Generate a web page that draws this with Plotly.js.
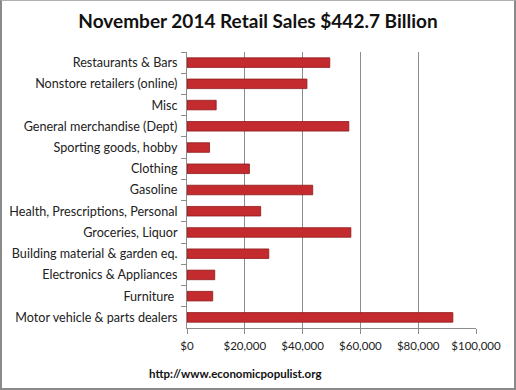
<!DOCTYPE html>
<html>
<head>
<meta charset="utf-8">
<script src="https://cdn.plot.ly/plotly-3.0.1.min.js"></script>
<style>
html,body{margin:0;padding:0;background:#fff;}
#wrap{position:relative;width:516px;height:390px;box-sizing:border-box;border:2px solid #8a8a8a;border-top:1px solid #b0b0b0;overflow:hidden;}
#chart{position:absolute;left:-2px;top:-1px;width:516px;height:390px;}
</style>
</head>
<body>
<div id="wrap"><div id="chart"></div></div>
<script>
const categories = [
  "Restaurants & Bars",
  "Nonstore retailers (online)",
  "Misc",
  "General merchandise (Dept)",
  "Sporting goods, hobby",
  "Clothing",
  "Gasoline",
  "Health, Prescriptions, Personal",
  "Groceries, Liquor",
  "Building material & garden eq.",
  "Electronics & Appliances",
  "Furniture ",
  "Motor vehicle & parts dealers"
];
const sales = [49400, 41500, 10100, 56000, 7800, 21600, 43500, 25500, 56700, 28300, 9600, 8900, 92000];
const tickValues = [0, 20000, 40000, 60000, 80000, 100000];
const tickLabels = ["$0", "$20,000", "$40,000", "$60,000", "$80,000", "$100,000"];
const titleText = "November 2014 Retail Sales $442.7 Billion";
const sourceText = "http://www.economicpopulist.org";

const trace = {
  type: "bar",
  orientation: "h",
  y: categories,
  x: sales,
  width: 0.45,
  marker: {color: "#c42b2e", line: {color: "#8e1a1c", width: 0.8}},
  hoverinfo: "x+y"
};

const layout = {
  width: 516, height: 390,
  paper_bgcolor: "#ffffff", plot_bgcolor: "#ffffff",
  margin: {l: 187, r: 40, t: 52, b: 62},
  showlegend: false,
  font: {family: "Lato, 'Open Sans', sans-serif", color: "#222"},
  title: {text: "<b>" + titleText + "</b>", x: 0.5, xanchor: "center", y: 0.945, yanchor: "middle",
          font: {family: "Lato, 'Open Sans', sans-serif", size: 19, color: "#111"}},
  xaxis: {
    range: [0, 100000], tickvals: tickValues, ticktext: tickLabels,
    showgrid: true, gridcolor: "#8c8c8c", gridwidth: 1,
    zeroline: false, showline: true, linecolor: "#8c8c8c",
    ticks: "outside", ticklen: 5, tickcolor: "#8c8c8c",
    tickfont: {size: 11.5, color: "#222"}, ticklabelstandoff: 2, fixedrange: true
  },
  yaxis: {
    type: "category", autorange: "reversed",
    showline: true, linecolor: "#8c8c8c", showgrid: false,
    ticks: "outside", ticklen: 5, tickcolor: "#8c8c8c", tickson: "boundaries",
    tickfont: {size: 12.6, color: "#222"}, ticklabelstandoff: 6, fixedrange: true
  },
  annotations: [{
    text: "<b>" + sourceText + "</b>", xref: "paper", yref: "paper",
    x: -0.14, y: -0.165, xanchor: "left", yanchor: "middle", showarrow: false,
    font: {family: "Lato, 'Open Sans', sans-serif", size: 11.5, color: "#111"}
  }]
};

Plotly.newPlot("chart", [trace], layout, {displayModeBar: false, staticPlot: true});
</script>
</body>
</html>
